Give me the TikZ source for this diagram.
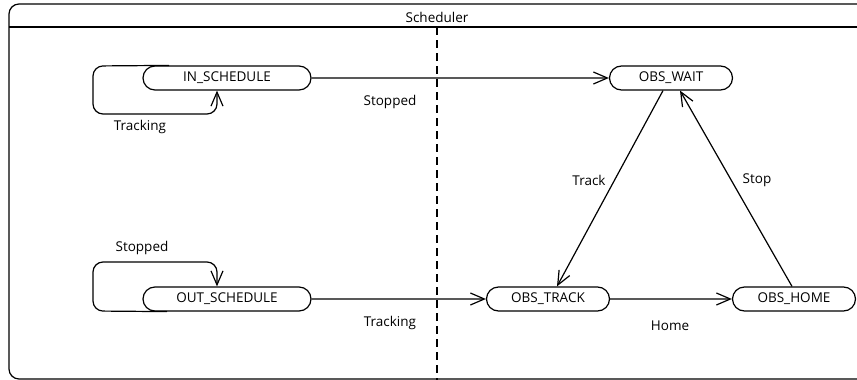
\documentclass[tikz,border=0pt]{standalone}
\usepackage{fontspec}
\setmainfont{Open Sans}
\usetikzlibrary{arrows.meta,shapes.misc}
\begin{document}
\begin{tikzpicture}[x=1pt,y=-1pt,
  every node/.style={font=\fontsize{13.5}{16}\selectfont},
  state/.style={draw, rounded rectangle, line width=1.2pt, minimum height=24pt, inner sep=0pt},
  wide/.style={state, minimum width=168pt},
  narrow/.style={state, minimum width=123pt},
  arr/.style={line width=1.2pt, -{Straight Barb[length=14pt,width=12pt,line width=1.2pt]}},
  lbl/.style={inner sep=0pt}]
\useasboundingbox (0,0) rectangle (857,380);
% frame
\draw[line width=1.2pt, rounded corners=10pt] (880,4) -- (9,4) -- (9,379) -- (880,379);
\draw[line width=1.2pt] (9,27) -- (880,27);
\node[lbl] (title) at (437,17) {Scheduler};
\draw[line width=1.2pt, dash pattern=on 8pt off 5pt] (437,27) -- (437,380);
% states
\node[wide] (in) at (227,78) {IN\_SCHEDULE};
\node[wide] (out) at (227,299) {OUT\_SCHEDULE};
\node[narrow] (wait) at (671,78) {OBS\_WAIT};
\node[narrow] (track) at (548,299) {OBS\_TRACK};
\node[narrow] (home) at (794,299) {OBS\_HOME};
% self loops
\coordinate (inA) at ([xshift=14pt]in.north west);
\coordinate (inB) at ([xshift=-10pt]in.south);
\draw[arr, rounded corners=10pt] (inA) -- (93,66) -- (93,114) -- (217,114) -- (inB);
\coordinate (outA) at ([xshift=12pt]out.south west);
\coordinate (outB) at ([xshift=-10pt]out.north);
\draw[arr, rounded corners=10pt] (outA) -- (93,311) -- (93,262) -- (217,262) -- (outB);
\node[lbl] (l1) at (140,127) {Tracking};
\node[lbl] (l2) at (142,248) {Stopped};
% transitions
\draw[arr] (in) -- (wait);
\node[lbl] (l3) at (390,102) {Stopped};
\draw[arr] (out) -- (track);
\node[lbl] (l4) at (390,323) {Tracking};
\draw[arr] (track) -- (home);
\node[lbl] (l5) at (670,326) {Home};
\draw[arr] ([xshift=-8pt]wait.south) -- ([xshift=9pt]track.north);
\node[lbl] (l6) at (589,180) {Track};
\draw[arr] ([xshift=-2pt]home.north) -- ([xshift=9pt]wait.south);
\node[lbl] (l7) at (757,180) {Stop};
\end{tikzpicture}
\end{document}
